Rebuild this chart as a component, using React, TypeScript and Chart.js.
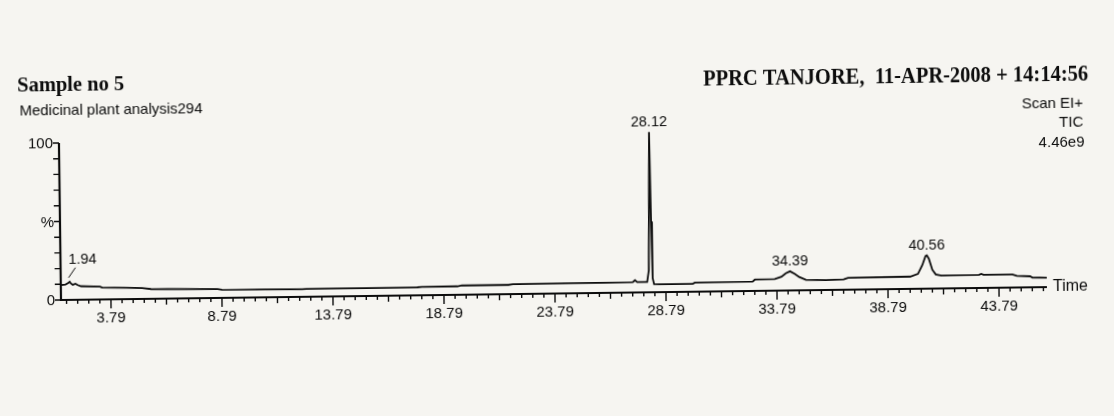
import React, { useEffect, useRef } from 'react';
import { Chart, registerables } from 'chart.js';

Chart.register(...registerables);

// Retention time (min) and relative abundance (%)
const retentionTimes = [
  1.54, 1.75, 1.88, 1.94, 2.0, 2.08, 2.2, 2.3, 2.45, 3.3, 3.4, 4.5, 5.2, 5.6, 8.6, 8.8,
  12.4, 12.6, 15.0, 17.6, 17.8, 19.4, 19.6, 21.7, 21.9, 24.5, 26.0, 27.3, 27.4, 27.5,
  27.95, 28.03, 28.08, 28.12, 28.16, 28.2, 28.26, 28.5, 30.0, 30.1, 32.7, 32.8, 33.7,
  34.0, 34.2, 34.39, 34.6, 34.8, 35.1, 36.0, 36.8, 37.0, 39.8, 40.15, 40.35, 40.5,
  40.56, 40.65, 40.8, 40.95, 41.2, 42.9, 43.0, 43.1, 44.4, 44.6, 45.2, 45.3, 45.95,
];
const intensities = [
  9.5, 9.8, 10.8, 11.6, 10.4, 9.6, 10.2, 9.4, 8.6, 8.2, 7.6, 7.2, 6.9, 6.2, 5.6, 5.2,
  4.8, 5.0, 5.0, 5.1, 5.3, 5.4, 5.9, 5.9, 6.3, 6.4, 6.4, 6.6, 7.8, 6.6,
  6.6, 14, 62, 102, 45, 9, 5.2, 5.0, 5.0, 5.8, 6.0, 7.2, 7.4,
  8.8, 11, 12.2, 10.5, 8.5, 6.6, 6.3, 6.6, 7.6, 7.8, 9.5, 15, 20.8,
  21.2, 19, 12, 9.0, 8.2, 8.4, 9.0, 8.4, 8.3, 7.4, 7.0, 6.2, 6.0,
];

const peakTimes = [1.94, 28.12, 34.39, 40.56];
const peakLabels = ['1.94', '28.12', '34.39', '40.56'];

const xTickValues = [3.79, 8.79, 13.79, 18.79, 23.79, 28.79, 33.79, 38.79, 43.79];
const xTickLabels = ['3.79', '8.79', '13.79', '18.79', '23.79', '28.79', '33.79', '38.79', '43.79'];
const yTickValues = [0, 50, 100];
const yTickLabels = ['0', '%', '100'];

const X_MIN = 1.54;
const X_MAX = 45.95;
const MINOR_START = 1.79;
const MINOR_STEP = 0.5;

const INK = '#0c0c0c';
const SANS = '"Liberation Sans", Arial, sans-serif';
const SERIF = '"Liberation Serif", "Times New Roman", serif';

const chromPlugin = {
  id: 'chromAxes',
  afterDatasetsDraw(chart: any) {
    const ctx = chart.ctx as CanvasRenderingContext2D;
    const xs = chart.scales.x;
    const ys = chart.scales.y;
    const x0 = xs.getPixelForValue(X_MIN);
    const xEnd = xs.getPixelForValue(X_MAX);
    const y0 = ys.getPixelForValue(0);
    const yTop = ys.getPixelForValue(100);

    ctx.save();
    ctx.strokeStyle = INK;
    ctx.fillStyle = INK;
    ctx.lineCap = 'butt';

    // axis lines
    ctx.lineWidth = 2.2;
    ctx.beginPath();
    ctx.moveTo(x0, yTop);
    ctx.lineTo(x0, y0);
    ctx.lineTo(xEnd, y0);
    ctx.stroke();

    // y ticks every 10 %
    ctx.lineWidth = 1.4;
    ctx.beginPath();
    for (let v = 0; v <= 100; v += 10) {
      const y = ys.getPixelForValue(v);
      ctx.moveTo(x0 - 6, y);
      ctx.lineTo(x0, y);
    }
    ctx.stroke();

    // x ticks every 0.5 min, longer at labelled and half positions
    ctx.beginPath();
    for (let k = 0; ; k++) {
      const t = MINOR_START + MINOR_STEP * k;
      if (t > X_MAX) break;
      const r10 = (((k - 4) % 10) + 10) % 10;
      const len = r10 === 0 ? 9 : r10 === 5 ? 6 : 4;
      const x = xs.getPixelForValue(t);
      ctx.moveTo(x, y0);
      ctx.lineTo(x, y0 + len);
    }
    ctx.stroke();

    // x tick labels
    ctx.font = `15px ${SANS}`;
    ctx.textAlign = 'center';
    ctx.textBaseline = 'middle';
    xTickValues.forEach((v, i) => {
      ctx.fillText(xTickLabels[i], xs.getPixelForValue(v), y0 + 19);
    });

    // y tick labels
    ctx.textAlign = 'right';
    yTickValues.forEach((v, i) => {
      ctx.fillText(yTickLabels[i], x0 - 6, ys.getPixelForValue(v) + 1);
    });

    // axis title
    ctx.font = `16px ${SANS}`;
    ctx.textAlign = 'left';
    ctx.textBaseline = 'alphabetic';
    ctx.fillText('Time', xEnd + 6, y0 + 4);

    // peak labels
    ctx.font = `14.5px ${SANS}`;
    peakTimes.forEach((pt, i) => {
      const idx = retentionTimes.indexOf(pt);
      const px = xs.getPixelForValue(pt);
      const py = ys.getPixelForValue(intensities[idx]);
      if (i === 0) {
        ctx.lineWidth = 1;
        ctx.beginPath();
        ctx.moveTo(px - 1, py - 4);
        ctx.lineTo(px + 6, py - 14);
        ctx.stroke();
        ctx.textAlign = 'left';
        ctx.textBaseline = 'middle';
        ctx.fillText(peakLabels[i], px - 1, py - 22);
      } else {
        ctx.textAlign = 'center';
        ctx.textBaseline = 'middle';
        ctx.fillText(peakLabels[i], px, py - 10);
      }
    });

    // header texts
    ctx.textBaseline = 'alphabetic';
    ctx.textAlign = 'left';
    ctx.font = `bold 22px ${SERIF}`;
    ctx.fillText('Sample no 5', 20, 91, 107);
    ctx.font = `15px ${SANS}`;
    ctx.fillText('Medicinal plant analysis294', 22, 114.5, 183);

    ctx.textAlign = 'right';
    ctx.font = `bold 23px ${SERIF}`;
    ctx.fillText('PPRC TANJORE,  11-APR-2008 + 14:14:56', 1091, 94, 385);
    ctx.font = `15px ${SANS}`;
    ctx.fillText('Scan EI+', 1085.5, 120.5);
    ctx.fillText('TIC', 1085.5, 140);
    ctx.fillText('4.46e9', 1086.5, 160);

    ctx.restore();
  },
};

export default function App() {
  const ref = useRef<HTMLCanvasElement>(null);

  useEffect(() => {
    if (!ref.current) return;
    const chart = new Chart(ref.current, {
      type: 'line',
      data: {
        datasets: [
          {
            data: retentionTimes.map((t, i) => ({ x: t, y: intensities[i] })),
            borderColor: INK,
            borderWidth: 1.8,
            pointRadius: 0,
            tension: 0,
            fill: false,
            clip: false as any,
          },
        ],
      },
      options: {
        responsive: false,
        animation: false,
        devicePixelRatio: 1,
        layout: { padding: { left: 61, right: 67, top: 143, bottom: 116 } },
        scales: {
          x: { type: 'linear', min: X_MIN, max: X_MAX, display: false },
          y: { type: 'linear', min: 0, max: 100, display: false },
        },
        plugins: { legend: { display: false }, tooltip: { enabled: false } },
      },
      plugins: [chromPlugin],
    });
    return () => chart.destroy();
  }, []);

  return (
    <div
      style={{
        position: 'fixed',
        left: 0,
        top: 0,
        width: 1114,
        height: 416,
        background: '#f6f5f1',
        overflow: 'hidden',
      }}
    >
      <canvas
        ref={ref}
        width={1114}
        height={416}
        style={{
          display: 'block',
          width: 1114,
          height: 416,
          transform: 'rotate(-0.75deg)',
          transformOrigin: '61px 300px',
        }}
      />
    </div>
  );
}
